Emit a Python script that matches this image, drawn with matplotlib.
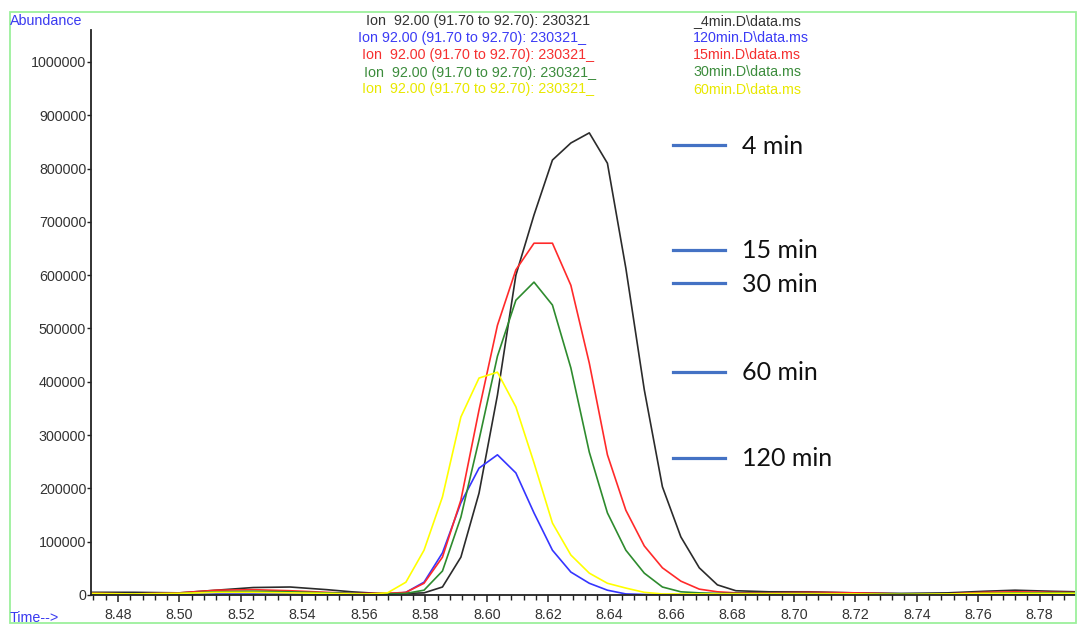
import numpy as np
import matplotlib
matplotlib.use("Agg")
import matplotlib.pyplot as plt
from matplotlib.lines import Line2D
from matplotlib.patches import Rectangle
from matplotlib.ticker import MultipleLocator, FuncFormatter

plt.rcParams['font.family'] = ['Liberation Sans', 'DejaVu Sans']

# retention time (min)
time = [8.470, 8.485, 8.500, 8.512, 8.524, 8.536, 8.548, 8.556,
        8.5617, 8.5677, 8.5737, 8.5796, 8.5856, 8.5916, 8.5975, 8.6035,
        8.6095, 8.6154, 8.6214, 8.6274, 8.6334, 8.6393, 8.6453, 8.6513,
        8.6572, 8.6632, 8.6692, 8.6751, 8.6811,
        8.692, 8.705, 8.720, 8.735, 8.750, 8.762, 8.772, 8.784, 8.800]

# abundance, ion 92.00
ab_4min = [5000, 5000, 4000, 9000, 14000, 15000, 10000, 6000,
           4000, 3000, 3000, 4000, 15000, 71000, 191000, 375000,
           600000, 713000, 816000, 848000, 867000, 810000, 613000, 385000,
           203000, 109000, 51000, 19000, 8000,
           6000, 6000, 4000, 3000, 4000, 7000, 9000, 7000, 5000]
ab_120min = [1000, 1000, 1000, 2000, 2000, 2000, 1500, 1000,
             1000, 1000, 5000, 24000, 79000, 173000, 238000, 263000,
             229000, 154000, 84000, 43000, 22000, 9000, 2000, 1000,
             1000, 1000, 1000, 1000, 1000,
             1000, 1000, 1000, 1000, 1000, 1000, 1000, 1000, 1000]
ab_15min = [3000, 2000, 4000, 9000, 10000, 8000, 5000, 3000,
            3000, 3000, 5000, 22000, 71000, 178000, 347000, 506000,
            610000, 660000, 660000, 581000, 435000, 263000, 159000, 92000,
            51000, 26000, 11000, 6000, 4000,
            4000, 5000, 4000, 2000, 2000, 5000, 6000, 5000, 4000]
ab_30min = [2000, 2000, 3000, 6000, 7000, 6000, 4000, 3000,
            2000, 2000, 3000, 9000, 45000, 146000, 291000, 448000,
            553000, 587000, 544000, 426000, 268000, 154000, 84000, 41000,
            15000, 6000, 4000, 3000, 3000,
            3000, 3000, 2000, 2000, 2000, 3000, 4000, 4000, 4000]
ab_60min = [3000, 2000, 3000, 5000, 5000, 4000, 3000, 2000,
            2000, 4000, 24000, 84000, 184000, 334000, 407000, 418000,
            353000, 248000, 135000, 75000, 41000, 22000, 13000, 5000,
            2000, 2000, 2000, 2000, 2000,
            2000, 2000, 2000, 1000, 2000, 3000, 3000, 3000, 3000]

series = [ab_4min, ab_120min, ab_15min, ab_30min, ab_60min]
line_colors = ['#2b2b2b', '#3535ff', '#ff2a2a', '#2e8b2e', '#ffff00']
text_colors = ['#333333', '#3b3bf5', '#f53030', '#3c8c3c', '#e8e800']

head_left = ['Ion  92.00 (91.70 to 92.70): 230321',
             'Ion 92.00 (91.70 to 92.70): 230321_',
             'Ion  92.00 (91.70 to 92.70): 230321_',
             'Ion  92.00 (91.70 to 92.70): 230321_',
             'Ion  92.00 (91.70 to 92.70): 230321_']
head_right = ['_4min.D\\data.ms', '120min.D\\data.ms', '15min.D\\data.ms',
              '30min.D\\data.ms', '60min.D\\data.ms']

notes = ['4 min', '15 min', '30 min', '60 min', '120 min']
note_y = [145, 250, 283, 372, 458]  # pixel rows of the overlay labels

W, H = 1078, 626
fig = plt.figure(figsize=(W / 100, H / 100), dpi=100)
ax = fig.add_axes([91 / W, 1 - 595 / H, (1075 - 91) / W, (595 - 30) / H])

for ys, c in zip(series, line_colors):
    ax.plot(time, ys, color=c, lw=1.2)

ax.set_xlim(8.4712, 8.7915)
ax.set_ylim(0, 1060000)
ax.spines['top'].set_visible(False)
ax.spines['right'].set_visible(False)
for s in ['left', 'bottom']:
    ax.spines[s].set_linewidth(1.3)
    ax.spines[s].set_color('#222222')

ax.set_xticks(np.arange(8.48, 8.785, 0.02))
ax.xaxis.set_major_formatter(FuncFormatter(lambda v, p: f"{v:.2f}"))
ax.xaxis.set_minor_locator(MultipleLocator(0.004))
ax.set_yticks(np.arange(0, 1000001, 100000))
ax.yaxis.set_major_formatter(FuncFormatter(lambda v, p: f"{int(round(v))}"))
ax.tick_params(axis='x', which='major', length=5, width=1.1, pad=4.5,
               labelsize=10.3, labelcolor='#333333', color='#222222')
ax.tick_params(axis='x', which='minor', length=3.5, width=1.0, color='#222222')
ax.tick_params(axis='y', length=3, width=1.0, pad=0.5,
               labelsize=10.3, labelcolor='#333333', color='#222222')

# frame and header text
fig.add_artist(Rectangle((10 / W, 1 - 623 / H), 1066 / W, 611 / H,
                         transform=fig.transFigure, fill=False,
                         edgecolor='#9cf09c', lw=1.3))
fig.text(10 / W, 1 - 25 / H, 'Abundance', color='#3a3af0', fontsize=10.3,
         va='baseline', ha='left')
fig.text(10 / W, 1 - 622 / H, 'Time-->', color='#3a3af0', fontsize=10.3,
         va='baseline', ha='left')

head_base = [25, 42, 59, 76.5, 93.5]
head_x = [366, 358, 362, 364, 362]
for hl, hr, c, yb, xl in zip(head_left, head_right, text_colors, head_base, head_x):
    fig.text(xl / W, 1 - yb / H, hl, color=c, fontsize=10.3, va='baseline')
    fig.text(693 / W, 1 - yb / H, hr, color=c, fontsize=10.3, va='baseline')

for lab, yp in zip(notes, note_y):
    fig.add_artist(Line2D([673 / W, 725 / W], [1 - yp / H, 1 - yp / H],
                          transform=fig.transFigure, color='#4472C4', lw=2.3))
    fig.text(742 / W, 1 - (yp + 8.5) / H, lab, family=['Lato', 'DejaVu Sans'],
             fontsize=18, va='baseline', color='#111111')

fig.savefig('out.png', dpi=100)
